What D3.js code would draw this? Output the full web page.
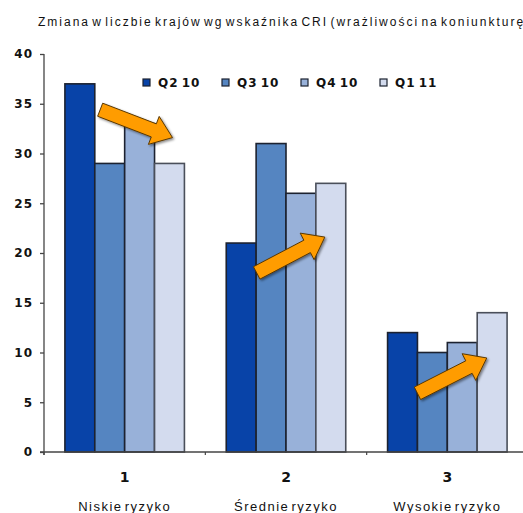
<!DOCTYPE html>
<html>
<head>
<meta charset="utf-8">
<script src="https://cdn.jsdelivr.net/npm/d3@7/dist/d3.min.js"></script>
<style>
  html, body { margin: 0; padding: 0; background: #fff; overflow: hidden; }
  svg { display: block; }
</style>
</head>
<body>
<svg id="chart" width="523" height="513"></svg>
<script>
// Risk groups (x categories) and their descriptions
const categories = ["1", "2", "3"];
const categoryNames = ["Niskie ryzyko", "Średnie ryzyko", "Wysokie ryzyko"];

// Quarters shown as series
const series = ["Q2 10", "Q3 10", "Q4 10", "Q1 11"];
const seriesColors = ["#0843a8", "#5585c1", "#98b1d9", "#d3dbee"];

// Number of countries per risk group for each quarter
const valuesQ210 = [37, 21, 12];
const valuesQ310 = [29, 31, 10];
const valuesQ410 = [33, 26, 11];
const valuesQ111 = [29, 27, 14];
const seriesValues = [valuesQ210, valuesQ310, valuesQ410, valuesQ111];

// Y axis ticks
const yTicks = [0, 5, 10, 15, 20, 25, 30, 35, 40];

// Trend arrows: [bar slot within group, value] for tail and tip
const trendArrows = [
  { cat: "1", from: [1.18, 34.4], to: [3.6, 31.6] },
  { cat: "2", from: [1.02, 18.0], to: [3.3, 21.6] },
  { cat: "3", from: [1.0, 5.9], to: [3.32, 9.45] }
];

const title = "Zmiana w liczbie krajów wg wskaźnika CRI (wrażliwości na koniunkturę)";

const svg = d3.select("#chart");

const x = d3.scaleBand().domain(categories).range([44, 528]).paddingInner(0).paddingOuter(0);
const xSub = d3.scaleBand().domain(series).range([0, x.bandwidth()]).paddingInner(0).paddingOuter(0.7);
const xSlot = d3.scaleLinear().domain([0, series.length])
  .range([xSub(series[0]), xSub(series[series.length - 1]) + xSub.bandwidth()]);
const y = d3.scaleLinear().domain([0, 40]).range([452, 54]);

// Drop shadow for arrows
const defs = svg.append("defs");
const f = defs.append("filter").attr("id", "shadow").attr("x", "-20%").attr("y", "-20%").attr("width", "140%").attr("height", "140%");
f.append("feDropShadow").attr("dx", 1.5).attr("dy", 1.5).attr("stdDeviation", 1.2).attr("flood-color", "#000").attr("flood-opacity", 0.45);

// Title
svg.append("text")
  .attr("x", 38).attr("y", 26)
  .attr("font-family", "Liberation Sans, Arial, sans-serif")
  .attr("font-size", 12)
  .attr("letter-spacing", 2.0)
  .attr("word-spacing", -3)
  .attr("fill", "#111")
  .text(title);

// Bars
const rows = categories.map((c, i) => ({ cat: c, vals: series.map((s, j) => ({ s, j, v: seriesValues[j][i] })) }));
const groups = svg.append("g").selectAll("g").data(rows).join("g")
  .attr("transform", d => `translate(${x(d.cat)},0)`);
groups.selectAll("rect").data(d => d.vals).join("rect")
  .attr("x", d => xSub(d.s))
  .attr("y", d => y(d.v))
  .attr("width", xSub.bandwidth())
  .attr("height", d => y(0) - y(d.v))
  .attr("fill", d => seriesColors[d.j])
  .attr("stroke", d => d.j === 3 ? "#4a4f5a" : "#1c2230")
  .attr("stroke-width", 1.6);

// Axes
const yAxis = d3.axisLeft(y).tickValues(yTicks).tickSize(4).tickPadding(7).tickFormat(d3.format("d"));
const gy = svg.append("g").attr("transform", "translate(44,0)").call(yAxis);
gy.select(".domain").remove();
gy.selectAll("line").attr("stroke", "#444").attr("stroke-width", 1.3);
gy.selectAll("text")
  .attr("font-family", "DejaVu Sans, sans-serif")
  .attr("font-weight", "bold")
  .attr("font-size", 12)
  .attr("letter-spacing", 1)
  .attr("fill", "#111");
svg.append("line").attr("x1", 44).attr("x2", 44).attr("y1", y(40)).attr("y2", 455)
  .attr("stroke", "#444").attr("stroke-width", 1.3);
svg.append("line").attr("x1", 40).attr("x2", 523).attr("y1", y(0)).attr("y2", y(0))
  .attr("stroke", "#444").attr("stroke-width", 1.6);
// category boundary ticks
svg.append("g").selectAll("line").data(categories).join("line")
  .attr("x1", d => x(d)).attr("x2", d => x(d))
  .attr("y1", y(0)).attr("y2", y(0) + 3)
  .attr("stroke", "#444").attr("stroke-width", 1.2);

// Category labels
svg.append("g").selectAll("text").data(categories).join("text")
  .attr("x", d => x(d) + x.bandwidth() / 2)
  .attr("y", 482)
  .attr("text-anchor", "middle")
  .attr("font-family", "DejaVu Sans, sans-serif")
  .attr("font-weight", "bold")
  .attr("font-size", 14)
  .attr("fill", "#111")
  .text(d => d);
svg.append("g").selectAll("text").data(categories).join("text")
  .attr("x", d => x(d) + x.bandwidth() / 2)
  .attr("y", 511)
  .attr("text-anchor", "middle")
  .attr("font-family", "Liberation Sans, Arial, sans-serif")
  .attr("font-size", 13)
  .attr("letter-spacing", 1.5)
  .attr("word-spacing", -3)
  .attr("fill", "#111")
  .text((d, i) => categoryNames[i]);

// Legend
const legend = svg.append("g").selectAll("g").data(series).join("g")
  .attr("transform", (d, i) => `translate(${143 + i * 79},79)`);
legend.append("rect").attr("width", 7).attr("height", 7)
  .attr("fill", (d, i) => seriesColors[i]).attr("stroke", "#1c2230").attr("stroke-width", 1.2);
legend.append("text").attr("x", 15).attr("y", 8)
  .attr("font-family", "DejaVu Sans, sans-serif")
  .attr("font-weight", "bold")
  .attr("font-size", 12)
  .attr("letter-spacing", 1)
  .attr("word-spacing", -2)
  .attr("fill", "#111")
  .text(d => d);

// Trend arrows
function arrowPath(x0, y0, x1, y1) {
  const dx = x1 - x0, dy = y1 - y0, len = Math.hypot(dx, dy);
  const ux = dx / len, uy = dy / len, px = -uy, py = ux;
  const bw = 7, hw = 15, hl = 20;
  const bx = x1 - ux * hl, by = y1 - uy * hl;
  const pts = [
    [x0 + px * bw, y0 + py * bw],
    [bx + px * bw, by + py * bw],
    [bx + px * hw, by + py * hw],
    [x1, y1],
    [bx - px * hw, by - py * hw],
    [bx - px * bw, by - py * bw],
    [x0 - px * bw, y0 - py * bw]
  ];
  return "M" + pts.map(p => p.join(",")).join("L") + "Z";
}
svg.append("g").selectAll("path").data(trendArrows).join("path")
  .attr("d", d => {
    const gx = x(d.cat);
    return arrowPath(gx + xSlot(d.from[0]), y(d.from[1]), gx + xSlot(d.to[0]), y(d.to[1]));
  })
  .attr("fill", "#ff9c00")
  .attr("stroke", "#5a3800")
  .attr("stroke-width", 1)
  .attr("stroke-linejoin", "miter")
  .attr("filter", "url(#shadow)");
</script>
</body>
</html>
